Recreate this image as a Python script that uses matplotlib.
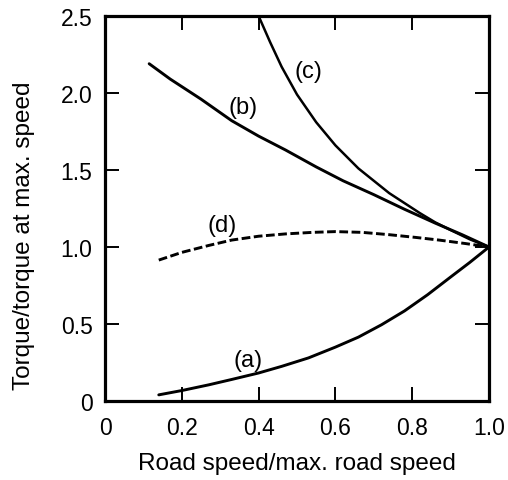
import matplotlib
matplotlib.use("Agg")
import matplotlib.pyplot as plt

plt.rcParams['font.family'] = ['Liberation Sans', 'DejaVu Sans']

# curve (a)
xa = [0.14, 0.20, 0.27, 0.33, 0.40, 0.46, 0.53, 0.60, 0.66, 0.72, 0.78, 0.84, 0.90, 0.95, 1.0]
ya = [0.04, 0.068, 0.105, 0.14, 0.182, 0.225, 0.28, 0.35, 0.415, 0.495, 0.585, 0.69, 0.805, 0.90, 1.0]
# curve (b)
xb = [0.115, 0.17, 0.25, 0.33, 0.40, 0.47, 0.55, 0.62, 0.70, 0.78, 0.86, 0.93, 1.0]
yb = [2.19, 2.09, 1.96, 1.82, 1.72, 1.63, 1.52, 1.43, 1.34, 1.245, 1.155, 1.08, 1.0]
# curve (c)
xc = [0.40, 0.43, 0.46, 0.50, 0.55, 0.60, 0.66, 0.70, 0.74, 0.78, 0.82, 0.86, 0.90, 0.95, 1.0]
yc = [2.50, 2.33, 2.17, 1.99, 1.81, 1.66, 1.51, 1.43, 1.35, 1.285, 1.22, 1.16, 1.11, 1.05, 1.0]
# curve (d), dashed
xd = [0.14, 0.20, 0.27, 0.33, 0.40, 0.47, 0.54, 0.60, 0.67, 0.74, 0.81, 0.87, 0.94, 1.0]
yd = [0.915, 0.965, 1.01, 1.045, 1.07, 1.085, 1.095, 1.10, 1.095, 1.08, 1.062, 1.045, 1.022, 1.0]

xticks = [0, 0.2, 0.4, 0.6, 0.8, 1.0]
xticklabels = ['0', '0.2', '0.4', '0.6', '0.8', '1.0']
yticks = [0, 0.5, 1.0, 1.5, 2.0, 2.5]
yticklabels = ['0', '0.5', '1.0', '1.5', '2.0', '2.5']

fig = plt.figure(figsize=(5.08, 4.81), dpi=100)
ax = fig.add_axes([0.2067, 0.1642, 0.7559, 0.8005])

ax.plot(xa, ya, color='black', lw=2.1, solid_capstyle='round')
ax.plot(xb, yb, color='black', lw=2.1, solid_capstyle='round')
ax.plot(xc, yc, color='black', lw=1.8, solid_capstyle='round')
ax.plot(xd, yd, color='black', lw=2.1, ls=(0, (3, 1.2)))

# curve labels
ax.text(0.372, 0.265, '(a)', fontsize=17, ha='center', va='center')
ax.text(0.36, 1.91, '(b)', fontsize=17, ha='center', va='center')
ax.text(0.53, 2.14, '(c)', fontsize=17, ha='center', va='center')
ax.text(0.304, 1.14, '(d)', fontsize=17, ha='center', va='center')

ax.set_xlim(0, 1.0)
ax.set_ylim(0, 2.5)
ax.set_xticks(xticks)
ax.set_xticklabels(xticklabels)
ax.set_yticks(yticks)
ax.set_yticklabels(yticklabels)
ax.tick_params(direction='in', length=10, width=1.4, top=True, right=True,
               labelsize=16.5, pad=9)
ax.tick_params(axis='x', pad=11)
for s in ax.spines.values():
    s.set_linewidth(2.3)

fig.text(0.5855, 1 - 464 / 481, 'Road speed/max. road speed', fontsize=17.5,
         ha='center', va='center')
fig.text(24 / 508, 1 - 236 / 481, 'Torque/torque at max. speed', fontsize=17.5,
         ha='center', va='center', rotation=90)

fig.savefig('out.png', dpi=100)
